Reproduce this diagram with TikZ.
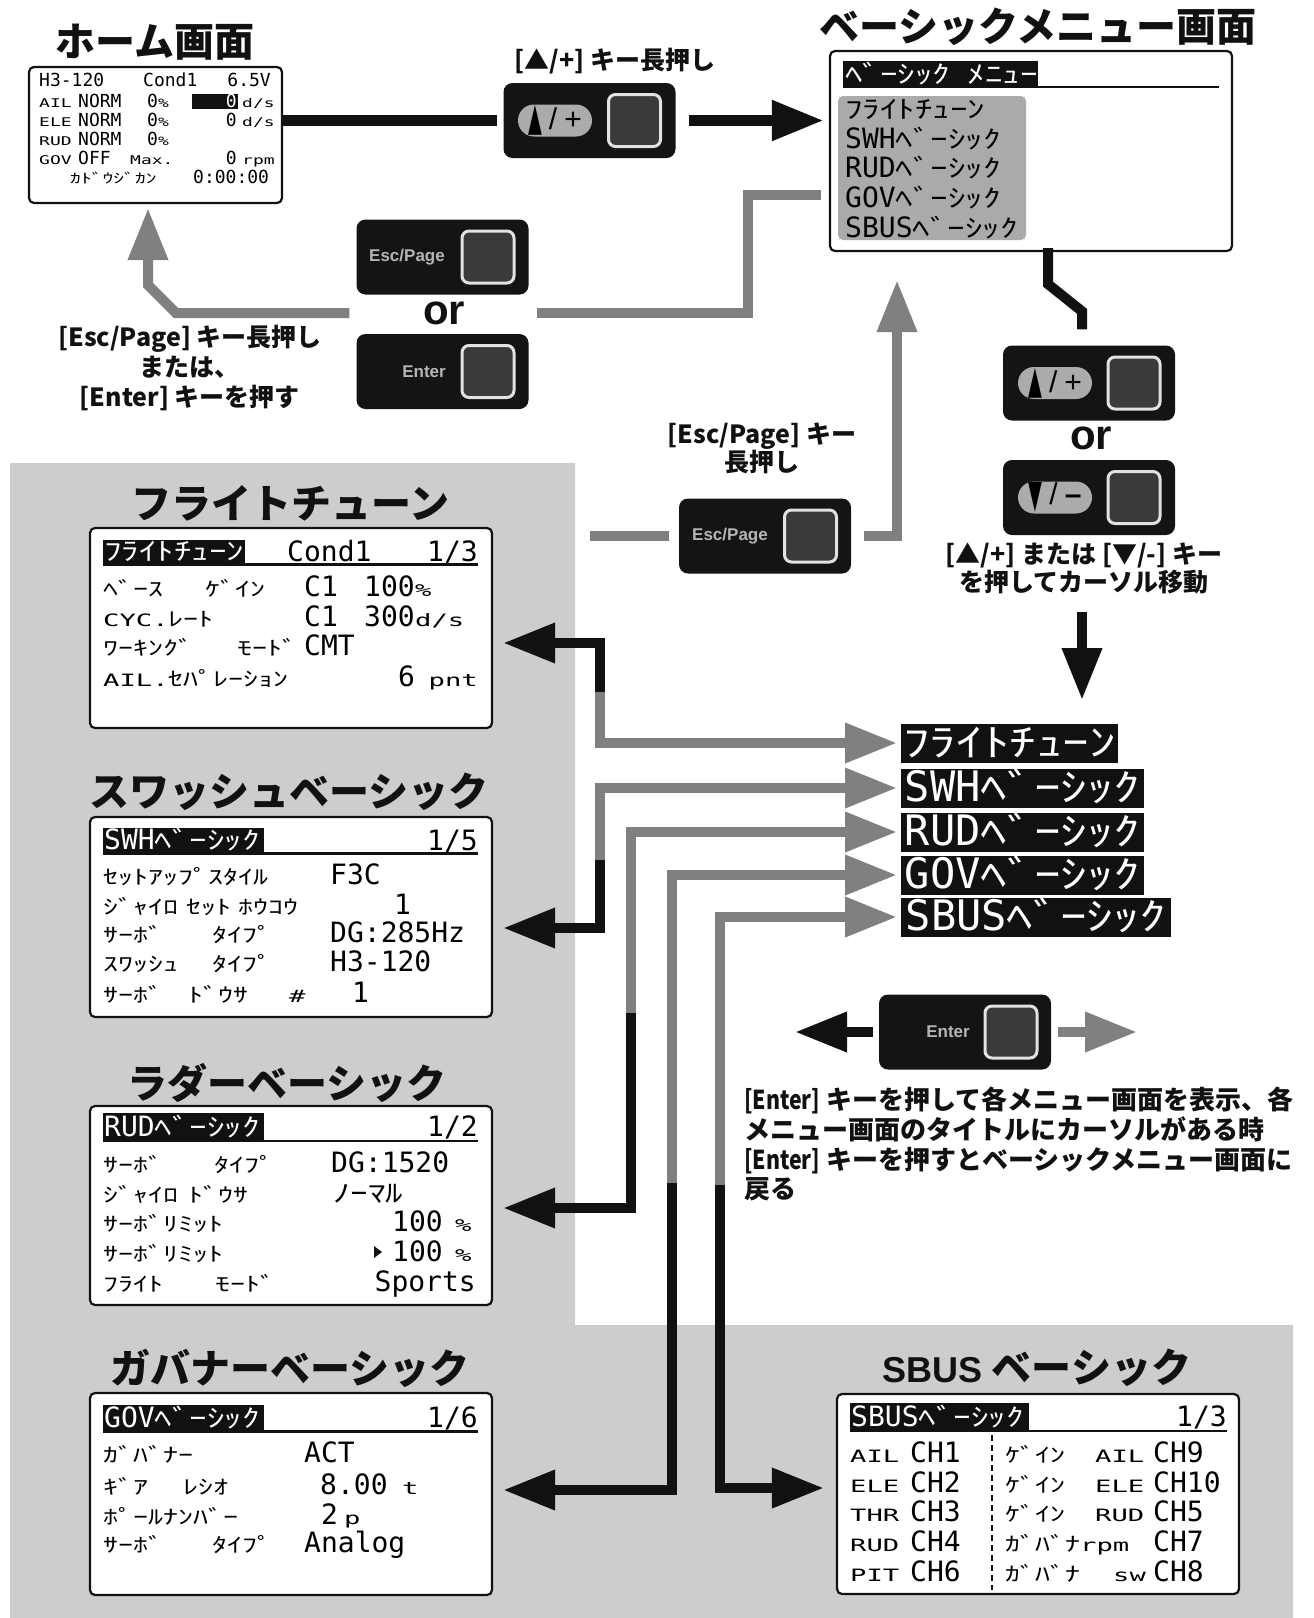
\documentclass[tikz,border=0pt]{standalone}
\usepackage{fontspec}
\usepackage{graphicx}
\usetikzlibrary{arrows.meta,calc}
\newfontfamily\jp{Noto Sans CJK JP}
\newfontfamily\lcdL{DejaVu Sans Mono}
\newfontfamily\arial{Liberation Sans}
\newfontfamily\dejavu{DejaVu Sans}
\definecolor{keyblk}{HTML}{141414}
\definecolor{sqfill}{HTML}{3A3A3A}
\definecolor{sqedge}{HTML}{E2E2E2}
\definecolor{pillg}{HTML}{ABABAB}
\definecolor{arrg}{HTML}{808080}
\definecolor{bgg}{HTML}{CDCDCD}
\definecolor{lcdg}{HTML}{AAAAAA}
\definecolor{keytxt}{HTML}{B5B5B5}
\definecolor{blk}{HTML}{111111}
\newcommand\zBL[1]{{\fontsize{28pt}{28pt}\lcdL #1}}
\newcommand\zBK[1]{\scalebox{1.4}[1]{\fontsize{25pt}{25pt}\jp #1}}
\newcommand\zSK[1]{\scalebox{1.5}[1]{\fontsize{20pt}{20pt}\jp #1}}
\newcommand\zSL[1]{\scalebox{1.6}[1]{\fontsize{17pt}{17pt}\lcdL #1}}
\newcommand\zHL[1]{{\fontsize{18pt}{18pt}\lcdL #1}}
\newcommand\zHS[1]{\scalebox{1.5}[1]{\fontsize{12pt}{12pt}\lcdL #1}}
\newcommand\zHK[1]{\scalebox{1.6}[1]{\fontsize{13.5pt}{13.5pt}\jp #1}}
\newcommand\zXL[1]{{\fontsize{42pt}{42pt}\lcdL #1}}
\newcommand\zXK[1]{\scalebox{1.4}[1]{\fontsize{38pt}{38pt}\jp #1}}
\newcommand\pillup{{\fontsize{30pt}{30pt}\arial\raisebox{-1pt}{\scalebox{0.6}[1.3]{\dejavu ▲}}\hspace{7pt}/\hspace{7pt}+}}
\newcommand\pilldn{{\fontsize{30pt}{30pt}\arial\raisebox{-3pt}{\scalebox{0.6}[1.3]{\dejavu ▼}}\hspace{7pt}/\hspace{7pt}\textbf{–}}}
\newcommand\cnd[1]{\scalebox{0.82}[1]{#1}}
\newcounter{zt}
\newcommand\ztx[3]{\stepcounter{zt}\node[anchor=base west,inner sep=0pt] (zt\arabic{zt}) at (#1,#2) {#3};}
\newcommand\ztxw[3]{\stepcounter{zt}\node[anchor=base west,inner sep=0pt,text=white] (zt\arabic{zt}) at (#1,#2) {#3};}
\newcommand\ztxe[3]{\stepcounter{zt}\node[anchor=base east,inner sep=0pt] (zt\arabic{zt}) at (#1,#2) {#3};}
\tikzset{
  ttl/.style={inner sep=0pt, text=blk, font={\fontsize{40pt}{44pt}\jp\bfseries}},
  lbl/.style={inner sep=0pt, text=blk, font={\fontsize{25pt}{29pt}\jp\bfseries}},
  screen/.style={draw=blk, line width=2.2pt, fill=white, rounded corners=5pt, minimum width=402pt, minimum height=200pt, inner sep=0pt},
  keybody/.style={fill=keyblk, rounded corners=9pt, minimum width=172pt, minimum height=75pt, inner sep=0pt},
  keysq/.style={fill=sqfill, draw=sqedge, line width=3pt, rounded corners=7pt, minimum size=52pt, inner sep=0pt},
  pill/.style={fill=pillg, rounded corners=16pt, minimum width=74pt, minimum height=32pt, inner sep=0pt},
  keytext/.style={text=keytxt, inner sep=0pt, font={\fontsize{17pt}{17pt}\arial\bfseries}},
  orstyle/.style={text=blk, inner sep=0pt, font={\fontsize{42pt}{42pt}\arial\bfseries}},
  lab/.style={fill=blk, text=white, inner xsep=2pt, inner ysep=3pt, text height=30pt, text depth=3pt, anchor=west},
  blkline/.style={draw=blk, line width=10pt, line cap=butt, line join=miter},
  grayline/.style={draw=arrg, line width=10pt, line cap=butt, line join=miter},
  blkarrow/.style={blkline, -{Triangle[length=52pt,width=38pt]}},
  grayarrow/.style={grayline, -{Triangle[length=52pt,width=38pt]}},
  uline/.style={draw=blk, line width=2.5pt}
}
\begin{document}
\begin{tikzpicture}[x=1pt,y=-1pt]
\useasboundingbox (0,0) rectangle (1314,1618);
\fill[white] (0,0) rectangle (1314,1618);
\fill[bgg] (10,463) -- (575,463) -- (575,1325) -- (1293,1325) -- (1293,1618) -- (10,1618) -- cycle;

% titles
\node[ttl] (tHome) at (155,42) {ホーム画面};
\node[ttl] (tMenu) at (1038,27) {ベーシックメニュー画面};
\node[ttl] (tFT) at (290,503) {フライトチューン};
\node[ttl] (tSW) at (289,792) {スワッシュベーシック};
\node[ttl] (tRU) at (287,1083) {ラダーベーシック};
\node[ttl] (tGO) at (290,1368) {ガバナーベーシック};
\node[ttl] (tSB) at (1037,1368) {{\fontsize{36pt}{40pt}\arial\bfseries SBUS} ベーシック};

% screens
\node[screen, minimum width=253pt, minimum height=136pt] (home) at (155.5,135) {};
\node[screen] (menu) at (1031,151) {};
\node[screen] (S1) at (291,628) {};
\node[screen] (S2) at (291,917) {};
\node[screen, minimum height=199pt] (S3) at (291,1205.5) {};
\node[screen, minimum height=202pt] (S4) at (291,1494) {};
\node[screen] (S5) at (1038,1494) {};

% home content
\ztx{39}{86.5}{\zHL{H3-120}}
\ztx{143}{86.5}{\zHL{Cond1}}
\ztxe{271}{86.5}{\zHL{6.5V}}
\ztx{39}{107.5}{\zHS{AIL}}
\ztx{78}{107.5}{\zHL{NORM}}
\ztx{147}{107.5}{\zHL{0}\zHS{\%}}
\fill[blk] (192,94) rectangle (238,109);
\stepcounter{zt}\node[anchor=base east,inner sep=0pt,text=white] (zt\arabic{zt}) at (237,107.5) {\zHL{0}};
\ztx{242}{107.5}{\zHS{d/s}}
\ztx{39}{126.5}{\zHS{ELE}}
\ztx{78}{126.5}{\zHL{NORM}}
\ztx{147}{126.5}{\zHL{0}\zHS{\%}}
\ztxe{237}{126.5}{\zHL{0}}
\ztx{242}{126.5}{\zHS{d/s}}
\ztx{39}{145.5}{\zHS{RUD}}
\ztx{78}{145.5}{\zHL{NORM}}
\ztx{147}{145.5}{\zHL{0}\zHS{\%}}
\ztx{39}{164.5}{\zHS{GOV}}
\ztx{78}{164.5}{\zHL{OFF}}
\ztx{130}{164.5}{\zHS{Max.}}
\ztxe{237}{164.5}{\zHL{0}}
\ztx{242}{164.5}{\zHS{rpm}}
\ztx{70}{183.5}{\zHK{ｶﾄﾞｳｼﾞｶﾝ}}
\ztx{193}{183.5}{\zHL{0:00:00}}

% menu content
\fill[blk] (843,61) rectangle (1038,88);
\ztxw{845}{83.5}{\zBK{ﾍﾞｰｼｯｸ\hspace{12.5pt}ﾒﾆｭｰ}}
\draw[uline] (1038,87) -- (1219,87);
\fill[lcdg, rounded corners=5pt] (838,96) rectangle (1026,240);
\ztx{845}{118}{\zBK{ﾌﾗｲﾄﾁｭｰﾝ}}
\ztx{845}{148}{\zBL{SWH}\zBK{ﾍﾞｰｼｯｸ}}
\ztx{845}{177}{\zBL{RUD}\zBK{ﾍﾞｰｼｯｸ}}
\ztx{845}{207}{\zBL{GOV}\zBK{ﾍﾞｰｼｯｸ}}
\ztx{845}{237}{\zBL{SBUS}\zBK{ﾍﾞｰｼｯｸ}}

% flight tune screen
\fill[blk] (103,540) rectangle (245,563);
\ztxw{104}{560.5}{\zBK{ﾌﾗｲﾄﾁｭｰﾝ}}
\ztx{287}{561}{\zBL{Cond1}}
\ztxe{478}{561}{\zBL{1/3}}
\draw[uline] (103,564.5) -- (478,564.5);
\ztx{103}{596}{\zSK{ﾍﾞｰｽ}}
\ztx{205}{596}{\zSK{ｹﾞｲﾝ}}
\ztx{304}{596}{\zBL{C1}}
\ztx{364}{596}{\zBL{100}}
\ztx{415}{596}{\zSL{\%}}
\ztx{103}{626}{\zSL{CYC.}\zSK{ﾚｰﾄ}}
\ztx{304}{626}{\zBL{C1}}
\ztx{364}{626}{\zBL{300}}
\ztx{415}{626}{\zSL{d/s}}
\ztx{103}{655}{\zSK{ﾜｰｷﾝｸﾞ}}
\ztx{237}{655}{\zSK{ﾓｰﾄﾞ}}
\ztx{304}{655}{\zBL{CMT}}
\ztx{103}{686}{\zSL{AIL.}\zSK{ｾﾊﾟﾚｰｼｮﾝ}}
\ztx{398}{686}{\zBL{6}}
\ztxe{478}{686}{\zSL{pnt}}

% swash screen
\fill[blk] (103,828) rectangle (264,852);
\ztxw{104}{849.5}{\zBL{SWH}\zBK{ﾍﾞｰｼｯｸ}}
\ztxe{478}{850}{\zBL{1/5}}
\draw[uline] (103,853.5) -- (478,853.5);
\ztx{103}{884}{\zSK{ｾｯﾄｱｯﾌﾟｽﾀｲﾙ}}
\ztx{330}{884}{\zBL{F3C}}
\ztx{103}{914}{\zSK{ｼﾞｬｲﾛ}}
\ztx{186}{914}{\zSK{ｾｯﾄ}}
\ztx{238}{914}{\zSK{ﾎｳｺｳ}}
\ztx{394}{914}{\zBL{1}}
\ztx{103}{942}{\zSK{ｻｰﾎﾞ}}
\ztx{212}{942}{\zSK{ﾀｲﾌﾟ}}
\ztx{330}{942}{\zBL{DG:285Hz}}
\ztx{103}{971}{\zSK{ｽﾜｯｼｭ}}
\ztx{212}{971}{\zSK{ﾀｲﾌﾟ}}
\ztx{330}{971}{\zBL{H3-120}}
\ztx{103}{1002}{\zSK{ｻｰﾎﾞ}}
\ztx{188}{1002}{\zSK{ﾄﾞｳｻ}}
\ztx{289}{1002}{\zSL{\#}}
\ztx{352}{1002}{\zBL{1}}

% rudder screen
\fill[blk] (103,1113) rectangle (264,1140);
\ztxw{104}{1136}{\zBL{RUD}\zBK{ﾍﾞｰｼｯｸ}}
\ztxe{478}{1136}{\zBL{1/2}}
\draw[uline] (103,1141) -- (478,1141);
\ztx{103}{1172}{\zSK{ｻｰﾎﾞ}}
\ztx{214}{1172}{\zSK{ﾀｲﾌﾟ}}
\ztx{331}{1172}{\zBL{DG:1520}}
\ztx{103}{1202}{\zSK{ｼﾞｬｲﾛ}}
\ztx{188}{1202}{\zSK{ﾄﾞｳｻ}}
\ztx{333}{1202}{\zBK{ﾉｰﾏﾙ}}
\ztx{103}{1231}{\zSK{ｻｰﾎﾞﾘﾐｯﾄ}}
\ztx{392}{1231}{\zBL{100}}
\ztx{455}{1231}{\zSL{\%}}
\ztx{103}{1261}{\zSK{ｻｰﾎﾞﾘﾐｯﾄ}}
\fill[blk] (374,1246) -- (382,1252) -- (374,1258) -- cycle;
\ztx{392}{1261}{\zBL{100}}
\ztx{455}{1261}{\zSL{\%}}
\ztx{103}{1291}{\zSK{ﾌﾗｲﾄ}}
\ztx{215}{1291}{\zSK{ﾓｰﾄﾞ}}
\ztxe{476}{1291}{\zBL{Sports}}

% governor screen
\fill[blk] (103,1405) rectangle (264,1430);
\ztxw{104}{1427}{\zBL{GOV}\zBK{ﾍﾞｰｼｯｸ}}
\ztxe{478}{1427}{\zBL{1/6}}
\draw[uline] (103,1431.5) -- (478,1431.5);
\ztx{103}{1462}{\zSK{ｶﾞﾊﾞﾅｰ}}
\ztx{304}{1462}{\zBL{ACT}}
\ztx{103}{1494}{\zSK{ｷﾞｱ}}
\ztx{183}{1494}{\zSK{ﾚｼｵ}}
\ztx{320}{1494}{\zBL{8.00}}
\ztx{402}{1494}{\zSL{t}}
\ztx{103}{1524}{\zSK{ﾎﾟｰﾙﾅﾝﾊﾞｰ}}
\ztx{321}{1524}{\zBL{2}}
\ztx{344}{1524}{\zSL{p}}
\ztx{103}{1552}{\zSK{ｻｰﾎﾞ}}
\ztx{212}{1552}{\zSK{ﾀｲﾌﾟ}}
\ztx{304}{1552}{\zBL{Analog}}

% SBUS screen
\fill[blk] (850,1403) rectangle (1029,1430);
\ztxw{851}{1426}{\zBL{SBUS}\zBK{ﾍﾞｰｼｯｸ}}
\ztxe{1227}{1426}{\zBL{1/3}}
\draw[uline] (850,1431) -- (1227,1431);
\draw[draw=blk, line width=2.5pt, dash pattern=on 6pt off 4pt] (992,1435) -- (992,1590);
\ztx{850}{1462}{\zSL{AIL}}
\ztx{910}{1462}{\zBL{CH1}}
\ztx{850}{1492}{\zSL{ELE}}
\ztx{910}{1492}{\zBL{CH2}}
\ztx{850}{1521}{\zSL{THR}}
\ztx{910}{1521}{\zBL{CH3}}
\ztx{850}{1551}{\zSL{RUD}}
\ztx{910}{1551}{\zBL{CH4}}
\ztx{850}{1581}{\zSL{PIT}}
\ztx{910}{1581}{\zBL{CH6}}
\ztx{1005}{1462}{\zSK{ｹﾞｲﾝ}}
\ztx{1095}{1462}{\zSL{AIL}}
\ztx{1153}{1462}{\zBL{CH9}}
\ztx{1005}{1492}{\zSK{ｹﾞｲﾝ}}
\ztx{1095}{1492}{\zSL{ELE}}
\ztx{1153}{1492}{\zBL{CH10}}
\ztx{1005}{1521}{\zSK{ｹﾞｲﾝ}}
\ztx{1095}{1521}{\zSL{RUD}}
\ztx{1153}{1521}{\zBL{CH5}}
\ztx{1005}{1551}{\zSK{ｶﾞﾊﾞﾅ}\zSL{rpm}}
\ztx{1153}{1551}{\zBL{CH7}}
\ztx{1005}{1581}{\zSK{ｶﾞﾊﾞﾅ}}
\ztx{1113}{1581}{\zSL{sw}}
\ztx{1153}{1581}{\zBL{CH8}}

% keys
\node[keybody] (keyA) at (589.5,120.5) {};
\node[keysq] (keyAsq) at ($(keyA.center)+(45,0)$) {};
\node[pill] (keyAp) at ($(keyA.center)+(-34.5,0)$) {\pillup};
\node[lbl] (keyAlab) at (615,61) {[▲/+] キー長押し};

\node[keybody] (escK) at (442.5,257) {};
\node[keysq] (escKsq) at ($(escK.center)+(45.5,0)$) {};
\node[keytext] (escKt) at ($(escK.center)+(-35.5,0)$) {Esc/Page};
\node[orstyle] (or1) at (444,313) {or};
\node[keybody] (entK) at (442.5,371.5) {};
\node[keysq] (entKsq) at ($(entK.center)+(45.5,0)$) {};
\node[keytext] (entKt) at ($(entK.center)+(-18.5,0)$) {Enter};
\node[lbl, align=center, font={\fontsize{25pt}{30pt}\jp\bfseries}] (backlab) at (190,368) {[Esc/Page] キー長押し\\{}または、\\{}[Enter] キーを押す};

\node[keybody] (escM) at (765,536) {};
\node[keysq] (escMsq) at ($(escM.center)+(45.5,0)$) {};
\node[keytext] (escMt) at ($(escM.center)+(-35,0)$) {Esc/Page};
\node[lbl, align=center, font={\fontsize{25pt}{28pt}\jp\bfseries}] (escMlab) at (762,448) {[Esc/Page] キー\\{}長押し};

\node[keybody] (keyUp2) at (1089,383) {};
\node[keysq] (keyUp2sq) at ($(keyUp2.center)+(45,0)$) {};
\node[pill] (keyUp2p) at ($(keyUp2.center)+(-34,0)$) {\pillup};
\node[orstyle] (or2) at (1091,438) {or};
\node[keybody] (keyDn2) at (1089,497.5) {};
\node[keysq] (keyDn2sq) at ($(keyDn2.center)+(45,0)$) {};
\node[pill] (keyDn2p) at ($(keyDn2.center)+(-34,0)$) {\pilldn};
\node[lbl, align=center, font={\fontsize{25pt}{28pt}\jp\bfseries}] (curtxt) at (1084,568) {[▲/+] または [▼/-] キー\\{}を押してカーソル移動};

\node[keybody] (entBR) at (965,1032) {};
\node[keysq] (entBRsq) at ($(entBR.center)+(46,0)$) {};
\node[keytext] (entBRt) at ($(entBR.center)+(-17,0)$) {Enter};
\node[anchor=north west, inner sep=0pt, align=left, text=blk, font={\fontsize{26pt}{29.7pt}\jp\bfseries}] (entlab) at (744,1087) {\cnd{[Enter]} キーを押して各メニュー画面を表示、各\\{}メニュー画面のタイトルにカーソルがある時\\{}\cnd{[Enter]} キーを押すとベーシックメニュー画面に\\{}戻る};

% labels
\node[lab, minimum width=216pt] (L1) at (901,743) {\zXK{ﾌﾗｲﾄﾁｭｰﾝ}};
\node[lab, minimum width=243pt] (L2) at (901,788) {\zXL{SWH}\zXK{ﾍﾞｰｼｯｸ}};
\node[lab, minimum width=243pt] (L3) at (901,832) {\zXL{RUD}\zXK{ﾍﾞｰｼｯｸ}};
\node[lab, minimum width=243pt] (L4) at (901,875) {\zXL{GOV}\zXK{ﾍﾞｰｼｯｸ}};
\node[lab, minimum width=270pt] (L5) at (901,917) {\zXL{SBUS}\zXK{ﾍﾞｰｼｯｸ}};

% connectors top
\draw[blkline, line width=11pt] (keyA.west -| home.east) -- ($(keyA.west)+(-6,0)$);
\draw[blkarrow, line width=11pt] ($(keyA.east)+(13,0)$) -- ($(keyA.east -| menu.west)+(-5,0)$);
\draw[grayline] ($(escK.east |- or1)+(8,0)$) -- (748,313) |- ($(menu.west)+(-8,44)$);
\draw[grayarrow] ($(escK.west |- or1)+(-7,0)$) -- (176,313) -- (148,285) -- ($(home.south)+(-7.5,4)$);
\coordinate (gsrc) at (590,536);
\draw[grayline] (gsrc) -- ($(escM.west)+(-10,0)$);
\draw[grayarrow] ($(escM.east)+(13,0)$) -| ($(menu.south)+(-134,28)$);
\draw[blkline] ($(menu.south)+(17,-4)$) -- ++(0,36) -- ($(keyUp2.north)+(-7,-34)$) -- ($(keyUp2.north)+(-7,-16)$);
\coordinate (dtip) at (1082,700);
\draw[blkarrow] ($(curtxt.south -| dtip)+(0,18)$) -- (dtip);

% connectors labels/screens
\coordinate (j1) at (600,692);
\coordinate (j2) at (600,860);
\coordinate (j3) at (631,1013);
\coordinate (j4) at (672,1183);
\coordinate (j5) at (720,1185);
\draw[blkarrow] (j1) |- ($(S1.east)+(10,15)$);
\draw[grayarrow] (j1) |- ($(L1.west)+(-4,0)$);
\draw[blkarrow] (j2) |- ($(S2.east)+(10,11)$);
\draw[grayarrow] (j2) |- ($(L2.west)+(-4,0)$);
\draw[blkarrow] (j3) |- ($(S3.east)+(10,2.5)$);
\draw[grayarrow] (j3) |- ($(L3.west)+(-4,0)$);
\draw[blkarrow] (j4) |- ($(S4.east)+(10,-4)$);
\draw[grayarrow] (j4) |- ($(L4.west)+(-4,0)$);
\draw[blkarrow] (j5) |- ($(S5.west)+(-12,-6)$);
\draw[grayarrow] (j5) |- ($(L5.west)+(-4,0)$);

% enter bottom-right arrows
\coordinate (eL) at (795,1032);
\coordinate (eR) at (1137,1032);
\draw[blkarrow] ($(entBR.west)+(-6,0)$) -- (eL);
\draw[grayarrow] ($(entBR.east)+(7,0)$) -- (eR);
\end{tikzpicture}
\end{document}
